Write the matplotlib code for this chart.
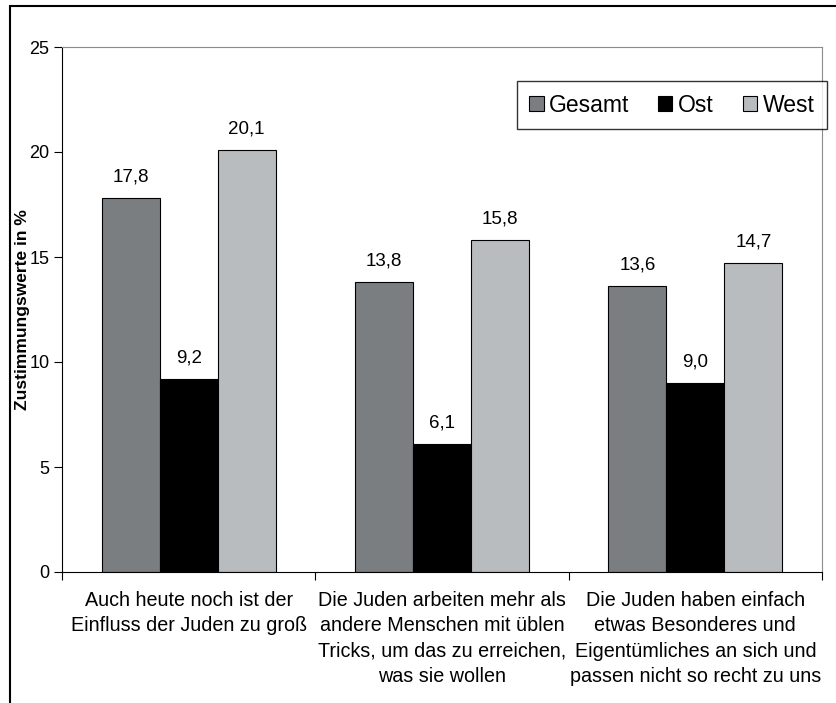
import matplotlib.pyplot as plt
import matplotlib.patches as patches
import numpy as np

plt.rcParams['font.family'] = ['Liberation Sans', 'DejaVu Sans']

# Data
categories = [
    "Auch heute noch ist der\nEinfluss der Juden zu groß",
    "Die Juden arbeiten mehr als\nandere Menschen mit üblen\nTricks, um das zu erreichen,\nwas sie wollen",
    "Die Juden haben einfach\netwas Besonderes und\nEigentümliches an sich und\npassen nicht so recht zu uns",
]
series_names = ["Gesamt", "Ost", "West"]
gesamt = [17.8, 13.8, 13.6]
ost = [9.2, 6.1, 9.0]
west = [20.1, 15.8, 14.7]
colors = ['#7b7e81', '#000000', '#b9bcbe']

fig = plt.figure(figsize=(8.36, 7.03), dpi=100)
ax = fig.add_axes([62/836, 1 - 572/703, 760/836, 525/703])

x = np.arange(len(categories))
width = 0.229
for i, (name, vals) in enumerate(zip(series_names, [gesamt, ost, west])):
    bars = ax.bar(x + (i - 1) * width, vals, width, color=colors[i],
                  edgecolor='black', linewidth=0.8, label=name)
    for bar, v in zip(bars, vals):
        ax.annotate(f'{v:.1f}'.replace('.', ','),
                    (bar.get_x() + bar.get_width() / 2, v),
                    xytext=(0, 9), textcoords='offset points',
                    ha='center', va='bottom', fontsize=13.5)

ax.set_xlim(-0.5, 2.5)
ax.set_ylim(0, 25)
ax.set_yticks([0, 5, 10, 15, 20, 25])
ax.tick_params(axis='y', labelsize=13, length=6, pad=3, direction='out')

# tick marks at category boundaries, labels centred
ax.set_xticks([-0.5, 0.5, 1.5, 2.5])
ax.set_xticklabels([])
ax.tick_params(axis='x', which='major', length=6, direction='out')
ax.set_xticks(x, minor=True)
ax.set_xticklabels(categories, minor=True, fontsize=14.2, linespacing=1.43)
ax.tick_params(axis='x', which='minor', length=0, pad=13.5)

ax.spines['top'].set_color('#8c8c8c')
ax.spines['right'].set_color('#8c8c8c')

ax.set_ylabel('Zustimmungswerte in %', fontsize=12.5, fontweight='bold')
ax.yaxis.set_label_coords(-0.042, 0.5)

leg = ax.legend(loc='upper right', bbox_to_anchor=(827/836, 1 - 81/703),
                bbox_transform=fig.transFigure, ncol=3, fontsize=16.5,
                frameon=True, fancybox=False, borderaxespad=0,
                handlelength=0.62, handleheight=0.62, handletextpad=0.25,
                columnspacing=1.25, borderpad=0.55)
leg.get_frame().set_edgecolor('black')
leg.get_frame().set_linewidth(1)

# outer chart frame
fig.patches.append(patches.Rectangle((10/836, -0.1), 1.2, 1 - 6/703 + 0.1,
                                     transform=fig.transFigure, fill=False,
                                     edgecolor='black', linewidth=1.5))

plt.savefig('out.png', dpi=100)
